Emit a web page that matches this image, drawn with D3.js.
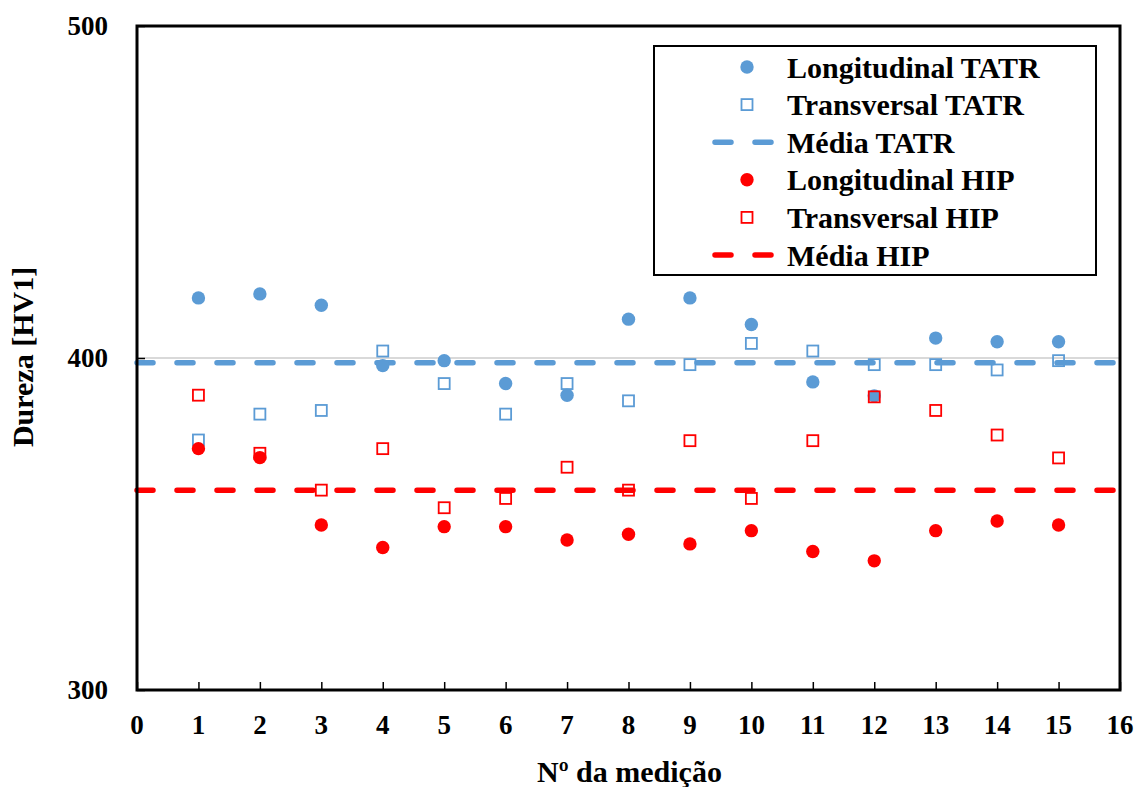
<!DOCTYPE html>
<html>
<head>
<meta charset="utf-8">
<script src="https://cdn.jsdelivr.net/npm/d3@7"></script>
<style>
    body { margin: 0; background: #fff; }
    text { font-family: "Liberation Serif", "Times New Roman", serif; font-weight: bold; }
</style>
</head>
<body>
<script>
// valores
let medicoes = [1, 2, 3, 4, 5, 6, 7, 8, 9, 10, 11, 12, 13, 14, 15];
let longTATR = [418.1, 419.3, 415.9, 397.7, 399.2, 392.3, 388.8, 411.7, 418.1, 410.1, 392.8, 388.6, 406.0, 404.9, 404.9];
let transTATR = [375.3, 383.1, 384.2, 402.1, 392.3, 383.1, 392.3, 387.1, 398.0, 404.4, 402.1, 398.0, 398.0, 396.4, 399.2];
let longHIP = [372.7, 370.0, 349.7, 342.9, 349.2, 349.2, 345.2, 346.9, 344.0, 348.0, 341.7, 338.9, 348.0, 350.9, 349.7];
let transHIP = [388.8, 371.3, 360.2, 372.7, 354.9, 357.7, 367.1, 360.2, 375.1, 357.7, 375.1, 388.3, 384.2, 376.8, 369.9];
let mediaTATR = 398.6;
let mediaHIP = 360.2;
let xTicks = d3.range(0, 17);
let yTicks = [300, 400, 500];

let blue = "#5B9BD5", red = "#FF0000";

let width = 1146, height = 787;
let margin = {top: 26, right: 26, bottom: 97, left: 137};

let svg = d3.select("body").append("svg")
    .attr("width", width)
    .attr("height", height);

let x = d3.scaleLinear().domain([0, 16]).range([margin.left, width - margin.right]);
let y = d3.scaleLinear().domain([300, 500]).range([height - margin.bottom, margin.top]);

// grade em 400
svg.append("line")
    .attr("x1", x(0)).attr("x2", x(16))
    .attr("y1", y(400)).attr("y2", y(400))
    .style("stroke", "#d9d9d9").style("stroke-width", 2);

// ticks internos
svg.append("g")
    .attr("transform", "translate(0," + y(300) + ")")
    .call(d3.axisBottom(x).tickValues(xTicks).tickSize(-8).tickFormat(""))
    .call(g => g.select(".domain").remove())
    .selectAll("line").style("stroke", "#000").style("stroke-width", 1.5);

svg.append("g")
    .attr("transform", "translate(" + x(0) + ",0)")
    .call(d3.axisLeft(y).tickValues(yTicks).tickSize(-8).tickFormat(""))
    .call(g => g.select(".domain").remove())
    .selectAll("line").style("stroke", "#000").style("stroke-width", 1.5);

// rótulos
svg.selectAll(".xlab").data(xTicks).enter().append("text")
    .attr("x", d => x(d))
    .attr("y", y(300) + 44)
    .attr("text-anchor", "middle")
    .style("font-size", "27px")
    .text(d => d);

svg.selectAll(".ylab").data(yTicks).enter().append("text")
    .attr("x", 108)
    .attr("y", d => y(d) + 9)
    .attr("text-anchor", "end")
    .style("font-size", "27px")
    .text(d => d);

svg.append("text")
    .attr("x", (x(0) + x(16)) / 2 + 1)
    .attr("y", 782)
    .attr("text-anchor", "middle")
    .style("font-size", "30px")
    .text("Nº da medição");

svg.append("text")
    .attr("transform", "translate(33," + (y(400) - 1) + ") rotate(-90)")
    .attr("text-anchor", "middle")
    .style("font-size", "30px")
    .text("Dureza [HV1]");

// linhas das médias
let medias = [{v: mediaTATR, c: blue}, {v: mediaHIP, c: red}];
svg.selectAll(".media").data(medias).enter().append("line")
    .attr("x1", x(0)).attr("x2", x(16))
    .attr("y1", d => y(d.v)).attr("y2", d => y(d.v))
    .style("stroke", d => d.c)
    .style("stroke-width", 5.5)
    .style("stroke-linecap", "round")
    .style("stroke-dasharray", "16,24");

// séries
function circles(vals, color) {
    svg.append("g").selectAll("circle").data(vals).enter().append("circle")
        .attr("cx", (d, i) => x(medicoes[i]))
        .attr("cy", d => y(d))
        .attr("r", 6.7)
        .style("fill", color);
}
function squares(vals, color) {
    svg.append("g").selectAll("rect").data(vals).enter().append("rect")
        .attr("x", (d, i) => x(medicoes[i]) - 5.5)
        .attr("y", d => y(d) - 5.5)
        .attr("width", 11).attr("height", 11)
        .style("fill", "none")
        .style("stroke", color)
        .style("stroke-width", 1.8);
}
squares(transTATR, blue);
circles(longTATR, blue);
circles(longHIP, red);
squares(transHIP, red);

// moldura
svg.append("rect")
    .attr("x", x(0)).attr("y", y(500))
    .attr("width", x(16) - x(0)).attr("height", y(300) - y(500))
    .style("fill", "none").style("stroke", "#000").style("stroke-width", 3);

// legenda
let legenda = [
    {t: "Longitudinal TATR", c: blue, k: "circle"},
    {t: "Transversal TATR", c: blue, k: "square"},
    {t: "Média TATR", c: blue, k: "line"},
    {t: "Longitudinal HIP", c: red, k: "circle"},
    {t: "Transversal HIP", c: red, k: "square"},
    {t: "Média HIP", c: red, k: "line"}
];
svg.append("rect")
    .attr("x", 654).attr("y", 46)
    .attr("width", 442).attr("height", 229)
    .style("fill", "#fff").style("stroke", "#000").style("stroke-width", 2);

let lg = svg.selectAll(".leg").data(legenda).enter().append("g")
    .attr("transform", (d, i) => "translate(747," + (67 + i * 37.6) + ")");
lg.filter(d => d.k == "circle").append("circle")
    .attr("r", 6.7).style("fill", d => d.c);
lg.filter(d => d.k == "square").append("rect")
    .attr("x", -5.5).attr("y", -5.5).attr("width", 11).attr("height", 11)
    .style("fill", "none").style("stroke", d => d.c).style("stroke-width", 1.8);
lg.filter(d => d.k == "line").append("line")
    .attr("x1", -32).attr("x2", 24)
    .style("stroke", d => d.c).style("stroke-width", 5.5)
    .style("stroke-linecap", "round").style("stroke-dasharray", "16,24");
lg.append("text")
    .attr("x", 40).attr("y", 10.5)
    .style("font-size", "30px")
    .text(d => d.t);
</script>
</body>
</html>
